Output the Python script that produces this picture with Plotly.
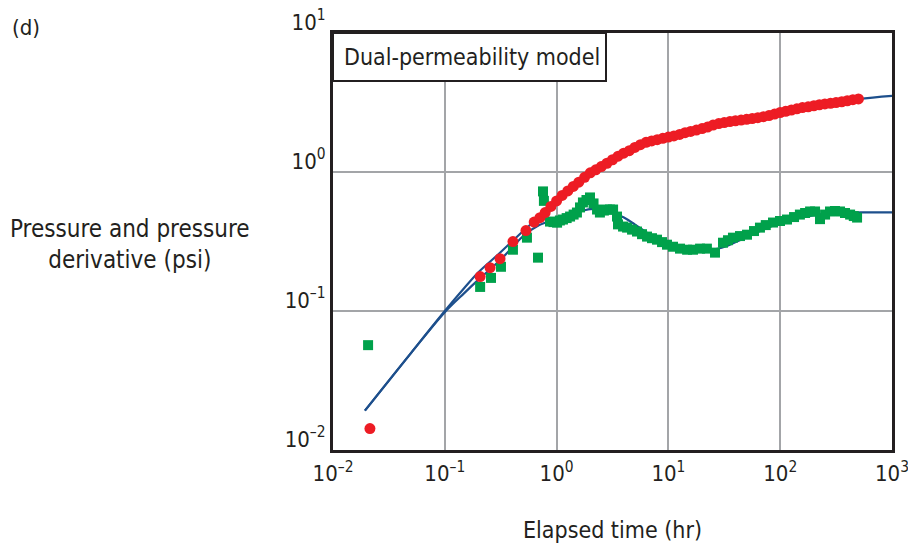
import plotly.graph_objects as go

# Measured pressure (psi) vs elapsed time (hr)
pressure_t = [0.0214, 0.207, 0.254, 0.312, 0.407, 0.532,
              0.63, 0.71, 0.79, 0.89, 1.0, 1.12, 1.26, 1.41, 1.58, 1.78,
              2.0, 2.24, 2.51, 2.82, 3.16, 3.55, 3.98, 4.47, 5.01, 5.62,
              6.31, 7.08, 7.94, 8.91, 10.0, 11.2, 12.6, 14.1, 15.8, 17.8,
              20.0, 22.4, 25.1, 28.2, 31.6, 35.5, 39.8, 44.7, 50.1, 56.2,
              63.1, 70.8, 79.4, 89.1, 100, 112, 126, 141, 158, 178,
              200, 224, 251, 282, 316, 355, 398, 447, 501]
pressure_p = [0.01425, 0.177, 0.205, 0.238, 0.316, 0.379,
              0.436, 0.469, 0.511, 0.565, 0.619, 0.678, 0.731, 0.788, 0.845, 0.915,
              0.987, 1.037, 1.094, 1.156, 1.225, 1.299, 1.365, 1.423, 1.501, 1.573,
              1.634, 1.673, 1.709, 1.747, 1.782, 1.818, 1.864, 1.918, 1.960, 2.003,
              2.053, 2.105, 2.176, 2.231, 2.268, 2.306, 2.337, 2.364, 2.392, 2.424,
              2.461, 2.502, 2.548, 2.613, 2.679, 2.733, 2.793, 2.850, 2.907, 2.946,
              2.996, 3.046, 3.087, 3.123, 3.160, 3.202, 3.256, 3.311, 3.354]

# Measured pressure derivative (psi)
deriv_t = [0.0206, 0.207, 0.259, 0.318, 0.407, 0.543, 0.682, 0.756, 0.77,
           0.873, 0.938, 1.01, 1.07, 1.14, 1.23, 1.32, 1.42, 1.52, 1.62, 1.72,
           1.85, 1.99, 2.14, 2.30, 2.44, 2.65, 2.82, 3.0, 3.20, 3.47, 3.54,
           3.93, 4.27, 4.73, 5.24, 5.81, 6.44, 7.13, 7.91, 8.77, 9.72, 11.0,
           12.7, 14.7, 16.6, 19.2, 22.1, 26.1, 30.8, 34.1, 37.8, 43.7, 50.5,
           58.3, 65.9, 74.3, 86.2, 99.6, 115, 133, 150, 167, 185, 205, 227,
           252, 279, 309, 343, 380, 422, 455, 487]
deriv_p = [0.0568, 0.149, 0.173, 0.208, 0.276, 0.337, 0.242, 0.725, 0.62,
           0.440, 0.436, 0.432, 0.448, 0.455, 0.466, 0.478, 0.494, 0.511, 0.556, 0.604,
           0.629, 0.656, 0.594, 0.537, 0.511, 0.528, 0.537, 0.537, 0.537, 0.478, 0.420,
           0.405, 0.398, 0.385, 0.373, 0.357, 0.343, 0.334, 0.326, 0.313, 0.300, 0.290,
           0.281, 0.276, 0.276, 0.281, 0.281, 0.263, 0.310, 0.323, 0.337, 0.346, 0.354,
           0.376, 0.398, 0.415, 0.433, 0.444, 0.455, 0.474, 0.494, 0.507, 0.520, 0.520, 0.458,
           0.494, 0.520, 0.524, 0.520, 0.507, 0.494, 0.482, 0.470]

# Dual-permeability model curves
model_p_t = [0.0193, 0.05, 0.1, 0.15, 0.2, 0.3, 0.5, 0.7, 1, 1.5, 2, 3, 5, 7,
             10, 20, 50, 100, 200, 500, 1000]
model_p = [0.0192, 0.05, 0.1, 0.147, 0.19, 0.255, 0.375, 0.475, 0.62, 0.83, 0.99,
           1.2, 1.5, 1.66, 1.78, 2.05, 2.39, 2.68, 3.0, 3.35, 3.53]
model_d_t = [0.0193, 0.05, 0.1, 0.15, 0.2, 0.3, 0.4, 0.5, 0.7, 1, 1.5, 2, 2.5, 3,
             4, 5, 7, 10, 15, 20, 30, 50, 100, 200, 400, 600, 1000]
model_d = [0.0192, 0.05, 0.098, 0.135, 0.168, 0.225, 0.285, 0.345, 0.415, 0.46,
           0.51, 0.54, 0.54, 0.52, 0.47, 0.42, 0.35, 0.30, 0.275, 0.27, 0.285,
           0.34, 0.43, 0.49, 0.51, 0.512, 0.513]

x_tickvals = [0.01, 0.1, 1, 10, 100, 1000]
x_ticktext = ["10<sup>–2</sup>", "10<sup>–1</sup>", "10<sup>0</sup>",
              "10<sup>1</sup>", "10<sup>2</sup>", "10<sup>3</sup>"]
y_tickvals = [0.01, 0.1, 1, 10]
y_ticktext = ["10<sup>–2</sup>", "10<sup>–1</sup>", "10<sup>0</sup>", "10<sup>1</sup>"]

FONT = "DejaVu Sans Condensed, DejaVu Sans, sans-serif"
INK = "#231f20"
GRID = "#a3a5a8"
BLUE = "#1d4f8c"
RED = "#ed1c24"
GREEN = "#00a14b"

# plot-area bounds in page pixels
L, R, T, B = 333, 892, 33, 450
W, H = 908, 547


def px_x(p):
    return (p - L) / (R - L)


def px_y(p):
    return (B - p) / (B - T)


fig = go.Figure()
fig.add_trace(go.Scatter(x=model_p_t, y=model_p, mode="lines",
                         line=dict(color=BLUE, width=2.2, shape="spline"),
                         showlegend=False))
fig.add_trace(go.Scatter(x=model_d_t, y=model_d, mode="lines",
                         line=dict(color=BLUE, width=2.2, shape="spline"),
                         showlegend=False))
fig.add_trace(go.Scatter(x=deriv_t, y=deriv_p, mode="markers",
                         marker=dict(symbol="square", size=10, color=GREEN,
                                     line=dict(width=0)),
                         showlegend=False))
fig.add_trace(go.Scatter(x=pressure_t, y=pressure_p, mode="markers",
                         marker=dict(symbol="circle", size=11, color=RED,
                                     line=dict(width=0)),
                         showlegend=False))

axis_common = dict(
    type="log", showgrid=True, gridcolor=GRID, gridwidth=1.5,
    showline=True, linecolor=INK, linewidth=3, mirror=True,
    ticks="", zeroline=False, ticklabeloverflow="allow", automargin=False,
    tickfont=dict(family=FONT, size=22, color=INK),
)

fig.update_xaxes(range=[-2, 3], tickvals=x_tickvals, ticktext=x_ticktext,
                 ticklabelstandoff=2, **axis_common)
fig.update_yaxes(range=[-2, 1], tickvals=y_tickvals, ticktext=y_ticktext,
                 ticklabelstandoff=0, ticklabelshift=-11, **axis_common)

fig.add_shape(type="rect", xref="paper", yref="paper",
              x0=px_x(L), x1=px_x(606), y0=px_y(81), y1=px_y(T),
              line=dict(color=INK, width=2), fillcolor="white", layer="above")

fig.add_annotation(text="Dual-permeability model", xref="paper", yref="paper",
                   x=px_x(342), y=px_y(57), xanchor="left", yanchor="middle",
                   showarrow=False, font=dict(family=FONT, size=23, color=INK))
fig.add_annotation(text="(d)", xref="paper", yref="paper",
                   x=px_x(10), y=px_y(27), xanchor="left", yanchor="middle",
                   showarrow=False, font=dict(family=FONT, size=22, color=INK))
fig.add_annotation(text="Pressure and pressure<br>derivative (psi)",
                   xref="paper", yref="paper", x=px_x(130), y=px_y(245),
                   xanchor="center", yanchor="middle", align="center",
                   showarrow=False, font=dict(family=FONT, size=24, color=INK))
fig.add_annotation(text="Elapsed time (hr)", xref="paper", yref="paper",
                   x=px_x(612), y=px_y(530), xanchor="center", yanchor="middle",
                   showarrow=False, font=dict(family=FONT, size=23, color=INK))

fig.update_layout(
    width=W, height=H,
    margin=dict(l=L, r=W - R, t=T, b=H - B),
    paper_bgcolor="white", plot_bgcolor="white",
    font=dict(family=FONT, color=INK),
)

fig.write_html("out.html")
